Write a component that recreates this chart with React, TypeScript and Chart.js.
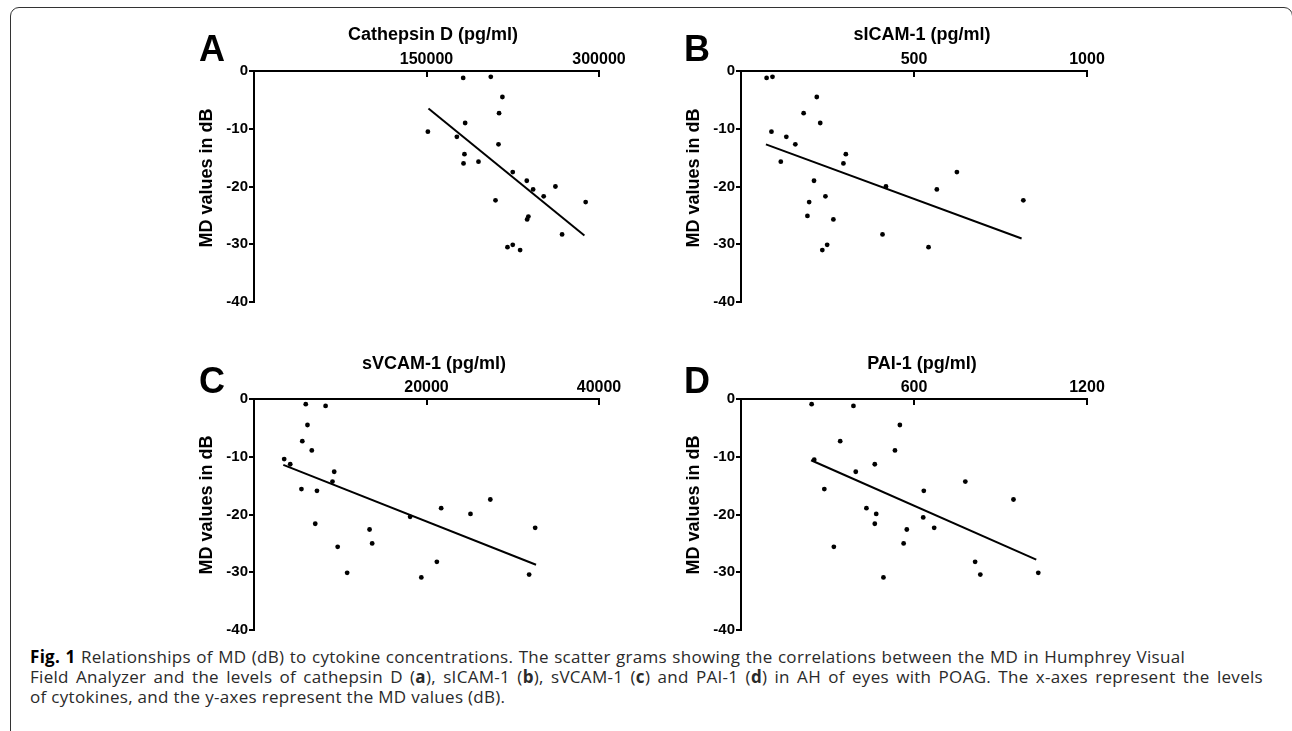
import React, { useEffect, useRef } from "react";
import { Chart, registerables } from "chart.js";

Chart.register(...registerables);

// ---------- data ----------
const Y_TICKS = [0, -10, -20, -30, -40];

const A_TITLE = "Cathepsin D (pg/ml)";
const A_X_TICKS = [150000, 300000];
const A_X = [181900, 205900, 216000, 213100, 183600, 151200, 176400, 212600, 183000, 182200, 195200, 225000, 237200, 242700, 262100, 251900, 210000, 288400, 238600, 237500, 267900, 220400, 225000, 231400];
const A_Y = [-1.2, -1.0, -4.5, -7.3, -9.0, -10.5, -11.4, -12.7, -14.4, -16.0, -15.7, -17.5, -19.0, -20.5, -20.0, -21.7, -22.4, -22.7, -25.2, -25.7, -28.3, -30.5, -30.1, -31.0];
const A_FIT_X = [151700, 287300];
const A_FIT_Y = [-6.5, -28.5];

const B_TITLE = "sICAM-1 (pg/ml)";
const B_X_TICKS = [500, 1000];
const B_X = [74, 91, 219, 181, 229, 88, 131, 157, 303, 296, 115, 624, 211, 419, 566, 244, 197, 816, 192, 267, 409, 542, 249, 235];
const B_Y = [-1.2, -1.0, -4.5, -7.3, -9.0, -10.5, -11.4, -12.7, -14.4, -16.0, -15.7, -17.5, -19.0, -20.0, -20.5, -21.7, -22.7, -22.4, -25.1, -25.7, -28.3, -30.5, -30.1, -31.0];
const B_FIT_X = [72, 811];
const B_FIT_Y = [-12.7, -29.0];

const C_TITLE = "sVCAM-1 (pg/ml)";
const C_X_TICKS = [20000, 40000];
const C_X = [6000, 8300, 6200, 5600, 6700, 3500, 4200, 9300, 9100, 5500, 7300, 27400, 21700, 25100, 18100, 7100, 13400, 32600, 13700, 9700, 21200, 31900, 10800, 19400];
const C_Y = [-0.9, -1.2, -4.5, -7.3, -8.9, -10.4, -11.3, -12.6, -14.3, -15.6, -15.9, -17.4, -18.9, -19.9, -20.4, -21.6, -22.6, -22.3, -25.0, -25.6, -28.2, -30.4, -30.1, -30.9];
const C_FIT_X = [3400, 32700];
const C_FIT_Y = [-11.4, -28.7];

const D_TITLE = "PAI-1 (pg/ml)";
const D_X_TICKS = [600, 1200];
const D_X = [245, 390, 551, 344, 534, 254, 464, 398, 778, 289, 634, 945, 435, 469, 632, 464, 575, 670, 564, 322, 812, 830, 1031, 494];
const D_Y = [-0.9, -1.2, -4.5, -7.3, -8.9, -10.5, -11.3, -12.6, -14.3, -15.6, -15.9, -17.4, -18.9, -19.9, -20.5, -21.6, -22.6, -22.3, -25.0, -25.6, -28.2, -30.4, -30.1, -30.9];
const D_FIT_X = [243, 1024];
const D_FIT_Y = [-10.6, -27.8];

const Y_TITLE = "MD values in dB";

// ---------- drawing ----------
const FONT = "'Liberation Sans', Arial, Helvetica, sans-serif";
const CAP_FONT = "'Open Sans', 'Noto Sans', sans-serif";

type Area = { left: number; top: number; right: number; bottom: number };

function Panel(props: {
  area: Area;
  xTicks: number[];
  xs: number[];
  ys: number[];
  fitX: number[];
  fitY: number[];
}) {
  const { area, xTicks, xs, ys, fitX, fitY } = props;
  const ref = useRef<HTMLCanvasElement>(null);
  const PADL = 50, PADT = 30, PADR = 40, PADB = 15;
  const w = area.right - area.left + PADL + PADR;
  const h = area.bottom - area.top + PADT + PADB;
  const xMax = xTicks[xTicks.length - 1];

  useEffect(() => {
    const chart = new Chart(ref.current as HTMLCanvasElement, {
      type: "scatter",
      data: {
        datasets: [
          {
            data: xs.map((x, i) => ({ x, y: ys[i] })),
            pointRadius: 2.4,
            pointBackgroundColor: "#000",
            pointBorderWidth: 0,
            showLine: false,
          },
          {
            data: fitX.map((x, i) => ({ x, y: fitY[i] })),
            showLine: true,
            pointRadius: 0,
            borderColor: "#000",
            borderWidth: 2,
          },
        ],
      },
      options: {
        animation: false,
        responsive: false,
        devicePixelRatio: 1,
        layout: { padding: { left: 0, top: 0, right: PADR, bottom: PADB } },
        plugins: { legend: { display: false }, tooltip: { enabled: false } },
        scales: {
          x: {
            type: "linear",
            position: "top",
            min: 0,
            max: xMax,
            afterBuildTicks: (s: any) => {
              s.ticks = xTicks.map((v) => ({ value: v }));
            },
            afterFit: (s: any) => {
              s.height = PADT;
            },
            grid: {
              display: true,
              drawOnChartArea: false,
              drawTicks: true,
              tickLength: -6,
              lineWidth: 2,
              color: "#000",
            },
            border: { display: true, width: 2, color: "#000" },
            ticks: {
              color: "#000",
              padding: 8,
              maxRotation: 0,
              autoSkip: false,
              font: { family: FONT, size: 16, weight: "bold" },
              callback: (v: any) => String(v),
            },
          },
          y: {
            type: "linear",
            position: "left",
            min: -40,
            max: 0,
            afterBuildTicks: (s: any) => {
              s.ticks = Y_TICKS.map((v) => ({ value: v }));
            },
            afterFit: (s: any) => {
              s.width = PADL;
            },
            grid: {
              display: true,
              drawOnChartArea: false,
              drawTicks: true,
              tickLength: 5,
              lineWidth: 2,
              color: "#000",
            },
            border: { display: true, width: 2, color: "#000" },
            ticks: {
              color: "#000",
              padding: 1,
              autoSkip: false,
              font: { family: FONT, size: 15, weight: "bold" },
              callback: (v: any) => String(v),
            },
          },
        },
      } as any,
    });
    return () => chart.destroy();
  }, []);

  return (
    <canvas
      ref={ref}
      width={w}
      height={h}
      style={{ position: "absolute", left: area.left - PADL, top: area.top - PADT, width: w, height: h }}
    />
  );
}

function Letter({ text, left, baseline }: { text: string; left: number; baseline: number }) {
  const fs = 36;
  return (
    <div
      style={{
        position: "absolute",
        left,
        top: baseline - 0.8465 * fs,
        fontFamily: FONT,
        fontWeight: "bold",
        fontSize: fs,
        lineHeight: `${fs}px`,
        color: "#000",
        whiteSpace: "nowrap",
      }}
    >
      {text}
    </div>
  );
}

function XTitle({ text, cx, baseline }: { text: string; cx: number; baseline: number }) {
  const fs = 18;
  return (
    <div
      style={{
        position: "absolute",
        left: cx,
        top: baseline - 0.8465 * fs,
        transform: "translateX(-50%)",
        fontFamily: FONT,
        fontWeight: "bold",
        fontSize: fs,
        lineHeight: `${fs}px`,
        color: "#000",
        whiteSpace: "nowrap",
      }}
    >
      {text}
    </div>
  );
}

function YTitle({ text, cx, cy }: { text: string; cx: number; cy: number }) {
  const fs = 18;
  return (
    <div
      style={{
        position: "absolute",
        left: cx,
        top: cy,
        transform: "translate(-50%, -50%) rotate(-90deg)",
        fontFamily: FONT,
        fontWeight: "bold",
        fontSize: fs,
        lineHeight: `${fs}px`,
        color: "#000",
        whiteSpace: "nowrap",
      }}
    >
      {text}
    </div>
  );
}

const capLine: React.CSSProperties = {
  position: "absolute",
  left: 30,
  fontFamily: CAP_FONT,
  fontSize: 17,
  lineHeight: "20px",
  letterSpacing: "0.3px",
  color: "#2a2a2a",
  whiteSpace: "nowrap",
};

const justified: React.CSSProperties = {
  textAlign: "justify",
  textAlignLast: "justify",
  whiteSpace: "normal",
};

export default function App() {
  const areaA = { left: 254, top: 71, right: 599, bottom: 302 };
  const areaB = { left: 741, top: 71, right: 1087, bottom: 302 };
  const areaC = { left: 254, top: 399, right: 599, bottom: 630 };
  const areaD = { left: 741, top: 399, right: 1087, bottom: 630 };

  return (
    <div
      style={{
        position: "fixed",
        left: 0,
        top: 0,
        width: 1292,
        height: 731,
        overflow: "hidden",
        background: "#fff",
      }}
    >
      <div
        style={{
          position: "absolute",
          left: 10,
          top: 7,
          width: 1283,
          height: 760,
          border: "1.5px solid #333",
          borderRadius: 9,
          boxSizing: "border-box",
        }}
      />

      <Panel area={areaA} xTicks={A_X_TICKS} xs={A_X} ys={A_Y} fitX={A_FIT_X} fitY={A_FIT_Y} />
      <Panel area={areaB} xTicks={B_X_TICKS} xs={B_X} ys={B_Y} fitX={B_FIT_X} fitY={B_FIT_Y} />
      <Panel area={areaC} xTicks={C_X_TICKS} xs={C_X} ys={C_Y} fitX={C_FIT_X} fitY={C_FIT_Y} />
      <Panel area={areaD} xTicks={D_X_TICKS} xs={D_X} ys={D_Y} fitX={D_FIT_X} fitY={D_FIT_Y} />

      <Letter text="A" left={199} baseline={61} />
      <Letter text="B" left={684} baseline={61} />
      <Letter text="C" left={199} baseline={393} />
      <Letter text="D" left={684} baseline={393} />

      <XTitle text={A_TITLE} cx={433} baseline={40} />
      <XTitle text={B_TITLE} cx={922} baseline={40} />
      <XTitle text={C_TITLE} cx={434} baseline={369} />
      <XTitle text={D_TITLE} cx={922} baseline={369} />

      <YTitle text={Y_TITLE} cx={205.5} cy={177.5} />
      <YTitle text={Y_TITLE} cx={692.5} cy={177.5} />
      <YTitle text={Y_TITLE} cx={205.5} cy={505} />
      <YTitle text={Y_TITLE} cx={692.5} cy={505} />

      <div style={{ ...capLine, ...justified, top: 647.4, width: 1155 }}>
        <b style={{ color: "#000" }}>Fig. 1</b> Relationships of MD (dB) to cytokine concentrations. The scatter grams showing the correlations between the MD in Humphrey Visual
      </div>
      <div style={{ ...capLine, ...justified, top: 667.4, width: 1233 }}>
        Field Analyzer and the levels of cathepsin D (<b>a</b>), sICAM-1 (<b>b</b>), sVCAM-1 (<b>c</b>) and PAI-1 (<b>d</b>) in AH of eyes with POAG. The x-axes represent the levels
      </div>
      <div style={{ ...capLine, top: 687 }}>
        of cytokines, and the y-axes represent the MD values (dB).
      </div>
    </div>
  );
}
